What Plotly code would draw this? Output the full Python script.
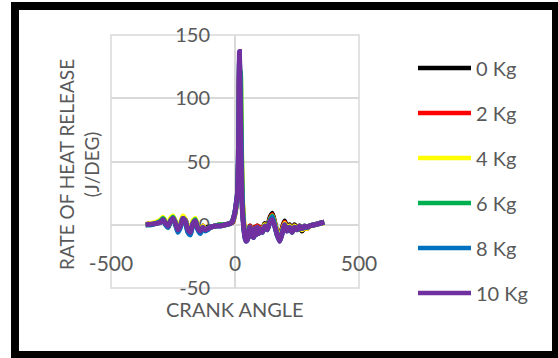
import plotly.graph_objects as go

# ---- data ----
crank_angle = [-360, -340, -320, -300, -290, -280, -270, -260, -250, -240, -230, -220, -210, -200,
               -190, -180, -170, -160, -150, -140, -130, -120, -110, -100, -80, -60, -40, -20,
               -10, -5, 0, 5, 10, 14, 18, 22, 26, 30, 35, 40, 45, 50, 55, 60, 65, 70, 75, 80,
               85, 90, 95, 100, 110, 120, 130, 140, 150, 160, 170, 180, 190, 200, 210, 220, 230,
               240, 250, 260, 270, 280, 290, 300, 320, 340, 360]

hrr_0kg = [0, 1, 1, 3, 5, 2, -1, 4, 6, 2, -3, 0, 6, 4, -3, -5, 2, 4, -2, -4, -1, -3, -2, -2, -1, 0, 0, 1,
           2, 5, 9, 15, 22, 50, 128, 95, 45, 15, 0, -8, -11, -10, -5, -1, -7, -3, -8, -2,
           -6, -1, -5, -2, -4, 1, -2, 5, 9, 2, -6, -10, -3, 3, -2, 0, -4,
           0, -3, -1, -5, -2, -3, -1, 0, 1, 2]
hrr_2kg = [0, 1, 1, 3, 5, 1, -2, 4, 6, 1, -4, 0, 6, 3, -4, -6, 2, 4, -3, -5, -1, -3, -3, -2, -1, 0, 0, 1,
           2, 5, 9, 16, 23, 48, 120, 100, 50, 18, 2, -7, -11, -10, -5, -1, -7, -3, -9, -2,
           -7, -1, -6, -2, -5, 0, -3, 4, 8, 1, -7, -11, -4, 2, -3, -1, -5,
           -1, -3, -1, -4, -2, -3, -1, 0, 1, 2]
hrr_4kg = [0, 1, 2, 4, 6, 2, 0, 5, 7, 2, -3, 1, 7, 4, -3, -6, 3, 5, -2, -5, -1, -3, -3, -2, -1, 0, 0, 1,
           3, 5, 9, 15, 22, 45, 110, 118, 65, 22, 3, -6, -10, -10, -6, -2, -7, -4, -9, -3,
           -7, -2, -6, -3, -5, 0, -3, 3, 7, 1, -6, -11, -5, 1, -3, -1, -6,
           -1, -4, -1, -4, -2, -3, -1, 0, 1, 1]
hrr_6kg = [0, 0, 1, 3, 5, 1, -2, 3, 6, 1, -5, -1, 5, 3, -5, -7, 1, 4, -3, -6, -2, -4, -3, -2, -1, 0, 0, 1,
           3, 6, 10, 16, 24, 50, 105, 121, 60, 18, 0, -9, -12, -11, -6, -2, -8, -4, -10, -3,
           -8, -2, -7, -3, -6, -1, -4, 3, 7, 0, -8, -12, -6, 0, -4, -2, -6,
           -2, -4, -1, -3, -1, -2, -1, 0, 1, 2]
hrr_8kg = [0, 0, 1, 2, 4, 0, -2, 3, 5, 0, -6, -2, 5, 2, -6, -8, 0, 3, -4, -7, -3, -5, -4, -2, -1, -1, 0, 1,
           3, 6, 10, 17, 25, 58, 130, 90, 40, 12, -1, -10, -13, -12, -7, -2, -9, -5, -10, -4,
           -8, -3, -7, -4, -6, -2, -4, 2, 6, -1, -8, -13, -7, -1, -5, -3, -6,
           -2, -4, -2, -3, -2, -2, -1, 0, 1, 2]
hrr_10kg = [0, 0.5, 1, 2, 4, 1, -1, 3, 5, 1, -4, -1, 5, 3, -4, -6, 1, 3, -3, -5, -2, -4, -3, -2, -1, -1, 0, 1,
            3, 6, 10, 17, 25, 60, 137, 85, 35, 10, -2, -10, -13, -12, -6, -2, -9, -4, -10, -3,
            -8, -2, -7, -3, -6, -1, -4, 2, 4, -1, -8, -13, -7, 0, -5, -2, -6,
            -2, -4, -1, -3, -1, -2, -1, 0, 1, 2]

series_names = ["0 Kg", "2 Kg", "4 Kg", "6 Kg", "8 Kg", "10 Kg"]
series_values = [hrr_0kg, hrr_2kg, hrr_4kg, hrr_6kg, hrr_8kg, hrr_10kg]
series_colors = ["#000000", "#FF0000", "#FFFF00", "#00B050", "#0070C0", "#7030A0"]

x_ticks = [-500, 0, 500]
x_tick_labels = ["-500", "0", "500"]
y_ticks = [-50, 0, 50, 100, 150]
y_tick_labels = ["-50", "0", "50", "100", "150"]

# ---- layout geometry (pixels) ----
W, H = 558, 358
L, R, T, B = 111, 359, 35, 288
pw, ph = R - L, B - T


def px(xp):
    return (xp - L) / pw


def py(yp):
    return (B - yp) / ph


FONT = "Lato, 'Open Sans', sans-serif"
GREY = "#595959"
GRID = "#D9D9D9"

fig = go.Figure()
for name, vals, col in zip(series_names, series_values, series_colors):
    fig.add_trace(go.Scatter(x=crank_angle, y=vals, mode="lines", name=name,
                             line=dict(color=col, width=5, shape="spline", smoothing=0.6),
                             showlegend=False))

fig.update_layout(
    width=W, height=H,
    margin=dict(l=L, r=W - R, t=T, b=H - B),
    paper_bgcolor="white", plot_bgcolor="white",
    font=dict(family=FONT, color=GREY, size=20),
    xaxis=dict(range=[-500, 500], tickvals=x_ticks, ticktext=x_tick_labels,
               showgrid=True, gridcolor=GRID, gridwidth=1.5,
               zeroline=False, showline=False, anchor="free", position=py(225),
               ticks="outside", ticklen=20, tickcolor="rgba(0,0,0,0)",
               tickfont=dict(size=21, family=FONT, color=GREY), layer="below traces"),
    yaxis=dict(range=[-50, 150], tickvals=y_ticks, ticktext=y_tick_labels,
               showgrid=True, gridcolor=GRID, gridwidth=1.5,
               zeroline=False, showline=False, anchor="free", position=px(235),
               ticks="outside", ticklen=21, tickcolor="rgba(0,0,0,0)",
               tickfont=dict(size=20, family=FONT, color=GREY), layer="below traces"),
)

# plot-area outline (edge gridlines at -500/500 and -50/150)
fig.add_shape(type="rect", xref="paper", yref="paper", x0=0, x1=1, y0=0, y1=1,
              line=dict(color=GRID, width=1.5), fillcolor="rgba(0,0,0,0)", layer="below")

# axis titles
fig.add_annotation(x=px(235), y=py(309), xref="paper", yref="paper", text="CRANK ANGLE",
                   xanchor="center", yanchor="middle",
                   showarrow=False, font=dict(size=20, color=GREY, family=FONT))
fig.add_annotation(x=px(79), y=py(165), xref="paper", yref="paper",
                   text="RATE OF HEAT RELEASE<br>(J/DEG)", textangle=-90,
                   xanchor="center", yanchor="middle",
                   showarrow=False, font=dict(size=19, color=GREY, family=FONT))

# legend (drawn manually)
leg_y0, leg_dy = 68, 45
for i, (name, col) in enumerate(zip(series_names, series_colors)):
    yy = py(leg_y0 + i * leg_dy)
    fig.add_shape(type="line", xref="paper", yref="paper", x0=px(418), x1=px(471), y0=yy, y1=yy,
                  line=dict(color=col, width=4.5))
    fig.add_annotation(x=px(474), y=yy, xref="paper", yref="paper", text=name,
                       xanchor="left", yanchor="middle",
                       showarrow=False, font=dict(size=20, color=GREY, family=FONT))

# outer frame (four sides)
fl, fr, ft, fb = 15, 556, 6, 355
for (xa, ya, xb, yb) in [(fl - 4, ft, fr + 4, ft), (fl - 4, fb, fr + 4, fb),
                         (fl, ft - 4, fl, fb + 4), (fr, ft - 4, fr, fb + 4)]:
    fig.add_shape(type="line", xref="paper", yref="paper", x0=px(xa), x1=px(xb), y0=py(ya), y1=py(yb),
                  line=dict(color="black", width=8))

fig.write_html("out.html", config={"displayModeBar": False},
               post_script="document.body.style.margin='0px';document.body.style.overflow='hidden';")
